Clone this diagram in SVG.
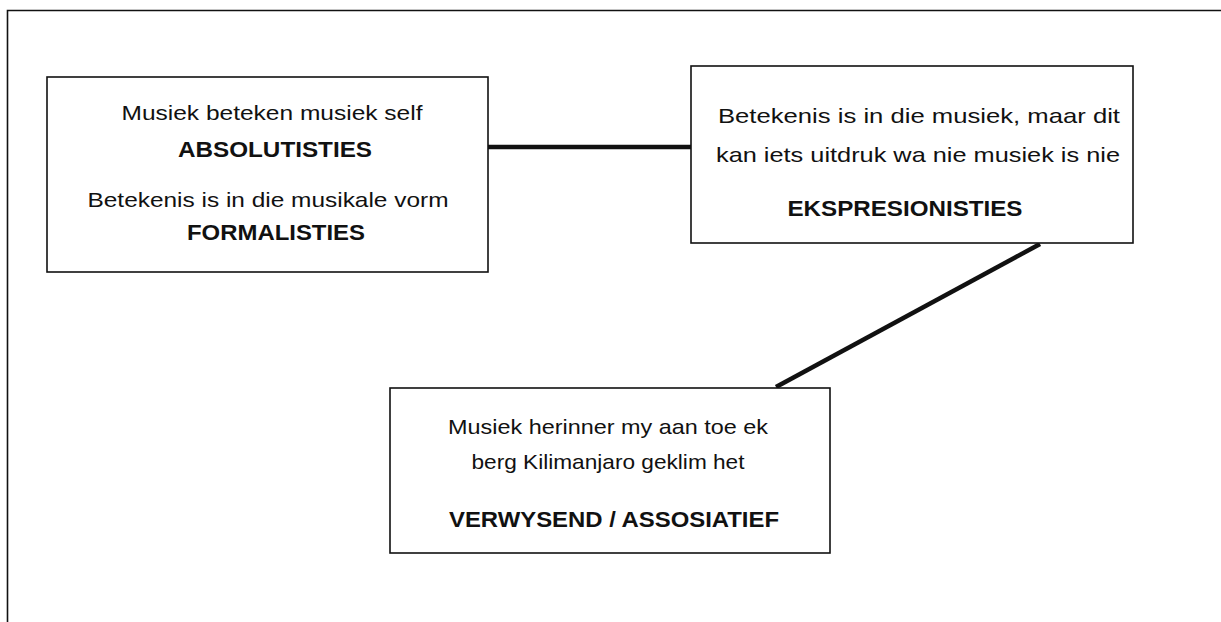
<svg xmlns="http://www.w3.org/2000/svg" width="1221" height="622" viewBox="0 0 1221 622">
<style>
.box{fill:#fff;stroke:#111;stroke-width:1.6}
.t{font-family:"Liberation Sans",Arial,sans-serif;font-size:21px;fill:#111;text-anchor:middle}
.b{font-family:"Liberation Sans",Arial,sans-serif;font-size:22px;font-weight:bold;fill:#111;text-anchor:middle}
.c{stroke:#111;stroke-width:4.5;fill:none}
.frame{stroke:#111;stroke-width:1.6;fill:none}
</style>
<rect width="1221" height="622" fill="#fff"/>
<path class="frame" d="M7.5 622 V10.5 H1221"/>
<g id="connectors">
<line class="c" x1="488" y1="147" x2="691" y2="147"/>
<line class="c" x1="1040" y1="244" x2="776" y2="387"/>
</g>
<g id="node-absolutisties">
<rect class="box" x="47" y="77" width="441" height="195"/>
<text class="t" x="272" y="120" textLength="301" lengthAdjust="spacingAndGlyphs">Musiek beteken musiek self</text>
<text class="b" x="275" y="157" textLength="194" lengthAdjust="spacingAndGlyphs">ABSOLUTISTIES</text>
<text class="t" x="268" y="207" textLength="361" lengthAdjust="spacingAndGlyphs">Betekenis is in die musikale vorm</text>
<text class="b" x="276" y="240" textLength="178" lengthAdjust="spacingAndGlyphs">FORMALISTIES</text>
</g>
<g id="node-ekspresionisties">
<rect class="box" x="691" y="66" width="442" height="177"/>
<text class="t" x="919" y="123" textLength="402" lengthAdjust="spacingAndGlyphs">Betekenis is in die musiek, maar dit</text>
<text class="t" x="918" y="162" textLength="404" lengthAdjust="spacingAndGlyphs">kan iets uitdruk wa nie musiek is nie</text>
<text class="b" x="905" y="216" textLength="235" lengthAdjust="spacingAndGlyphs">EKSPRESIONISTIES</text>
</g>
<g id="node-verwysend">
<rect class="box" x="390" y="388" width="440" height="165"/>
<text class="t" x="608" y="434" textLength="320" lengthAdjust="spacingAndGlyphs">Musiek herinner my aan toe ek</text>
<text class="t" x="608" y="469" textLength="273" lengthAdjust="spacingAndGlyphs">berg Kilimanjaro geklim het</text>
<text class="b" x="614" y="527" textLength="330" lengthAdjust="spacingAndGlyphs">VERWYSEND / ASSOSIATIEF</text>
</g>
</svg>
